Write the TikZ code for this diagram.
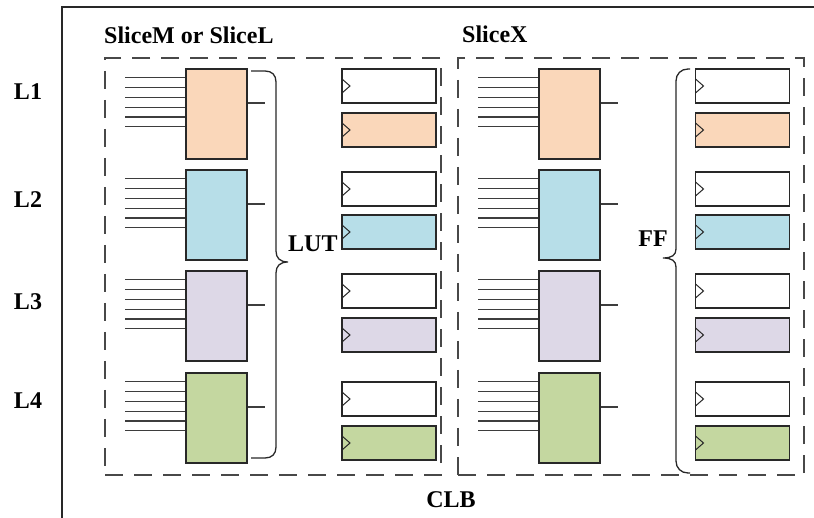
\documentclass[tikz,border=0pt]{standalone}
\usepackage{fontspec}
\setmainfont{Liberation Serif}
\usepackage{xcolor}
\definecolor{clbpeach}{RGB}{250,215,186}
\definecolor{clbblue}{RGB}{183,222,232}
\definecolor{clblavender}{RGB}{221,216,231}
\definecolor{clbgreen}{RGB}{196,215,160}
\definecolor{clbline}{RGB}{40,40,40}
\usepackage{tikz}
\usetikzlibrary{positioning, calc}

\tikzset{
  lutbox/.style={draw=clbline,line width=1.4pt,minimum width=61pt,minimum height=90pt,inner sep=0pt},
  ffbox/.style={draw=clbline,line width=1.4pt,minimum width=94pt,minimum height=34pt,inner sep=0pt,
    path picture={\draw[clbline,line width=1pt] ([yshift=7pt]path picture bounding box.west) -- ++(8pt,-7pt) -- ++(-8pt,-7pt);}},
  slicebox/.style={draw=clbline!85,line width=1.4pt,dash pattern=on 18pt off 11pt,minimum height=417pt,inner sep=0pt},
  lbl/.style={font=\bfseries\fontsize{24}{28}\selectfont,inner sep=0pt},
  wire/.style={draw=clbline!90,line width=1.2pt},
  bracel/.style={draw=clbline,line width=1.3pt}
}

\begin{document}
\begin{tikzpicture}[x=1pt,y=-1pt]
  \useasboundingbox (0,0) rectangle (814,518);
  % CLB frame and the two slices
  \draw[clbline,line width=1.3pt] (62,518) |- (814,7);
  \node[slicebox,minimum width=336pt] (slml) at (273,266.5) {};
  \node[slicebox,minimum width=346pt] (slx) at (631,266.5) {};

  % LUTs with six inputs and one output
  \foreach \yc/\col [count=\i] in {114/clbpeach,215/clbblue,316/clblavender,418/clbgreen} {
    \node[lutbox,fill=\col] (lutl\i) at (216.5,\yc) {};
    \node[lutbox,fill=\col] (lutx\i) at (569.5,\yc) {};
    \foreach \s in {l,x} {
      \foreach \k in {0,...,5} {
        \pgfmathsetmacro{\off}{9.5+9.8*\k}
        \coordinate (in\s\i-\k) at ([xshift=-60pt,yshift=-\off pt]lut\s\i.north west);
        \draw[wire] (in\s\i-\k) -- (in\s\i-\k -| lut\s\i.west);
      }
      \coordinate (out\s\i) at ([xshift=17pt,yshift=11pt]lut\s\i.east);
      \draw[wire] (lut\s\i.east |- out\s\i) -- (out\s\i);
    }
  }

  % flip-flops, two per LUT
  \foreach \ya/\yb/\col [count=\i] in {86/130/clbpeach,189/232/clbblue,291/335/clblavender,399/443/clbgreen} {
    \node[ffbox,fill=white] (ffl\i-a) at (389,\ya) {};
    \node[ffbox,fill=\col] (ffl\i-b) at (389,\yb) {};
    \node[ffbox,fill=white] (ffx\i-a) at (742.5,\ya) {};
    \node[ffbox,fill=\col] (ffx\i-b) at (742.5,\yb) {};
  }

  % braces
  \draw[bracel] (251,71) -- (265,71) .. controls (272,71) and (276,75) .. (276,82)
    -- (276,251) .. controls (276,258) and (280,262) .. (288,262)
    .. controls (280,262) and (276,266) .. (276,273)
    -- (276,447) .. controls (276,454) and (272,458) .. (265,458) -- (251,458);
  \draw[bracel] (690,69) -- (688,69) .. controls (681,69) and (676,74) .. (676,81)
    -- (676,249) .. controls (676,255) and (672,258) .. (663,258)
    .. controls (672,258) and (676,261) .. (676,267)
    -- (676,461) .. controls (676,468) and (681,473) .. (688,473) -- (690,473);

  % labels
  \node[lbl,anchor=base west] (tslml) at (104,44) {SliceM or SliceL};
  \node[lbl,anchor=base west] (tslx) at (462,43) {SliceX};
  \node[lbl,anchor=base] (tclb) at (451,507) {CLB};
  \node[lbl,anchor=base west] (tlut) at (288,252) {LUT};
  \node[lbl,anchor=base east] (tff) at (668,247) {FF};
  \foreach \yb [count=\i] in {100,208,310,409}
    \node[lbl,anchor=base] (tl\i) at (28,\yb) {L\i};
\end{tikzpicture}
\end{document}
